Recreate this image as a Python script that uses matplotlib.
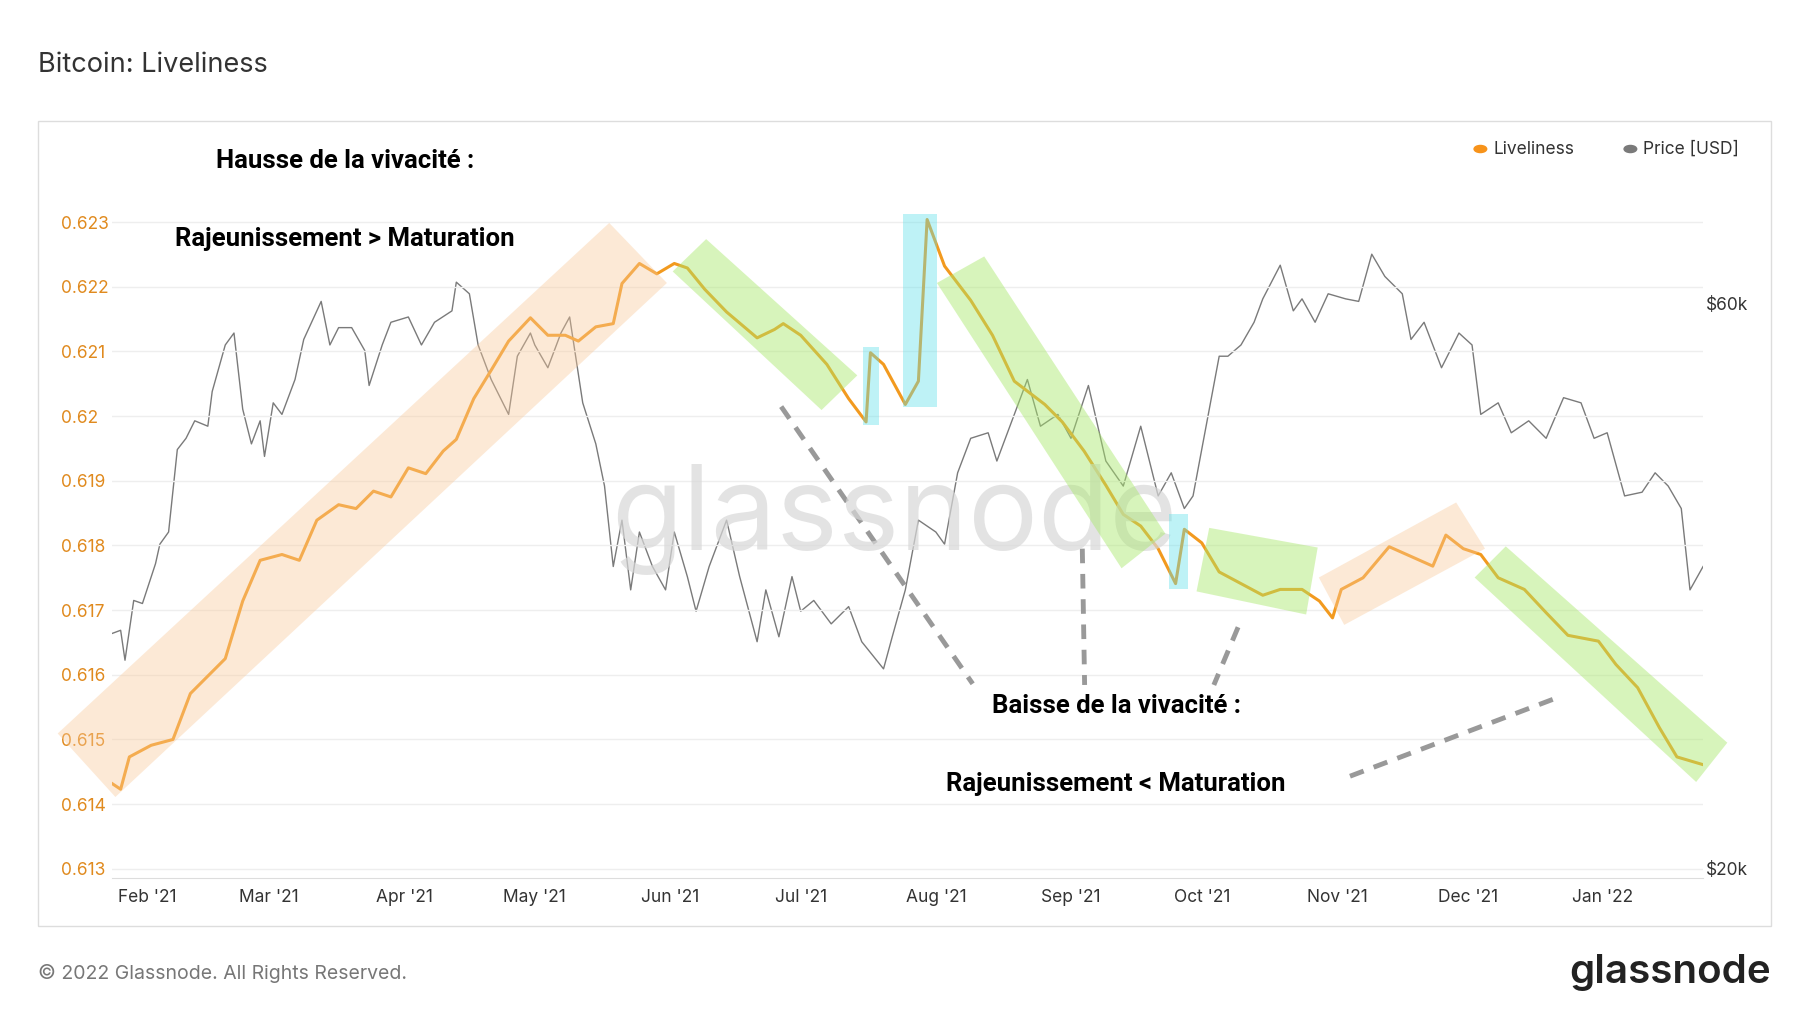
import matplotlib
matplotlib.use("Agg")
import matplotlib.pyplot as plt
from matplotlib.patches import Polygon, Rectangle
from matplotlib.lines import Line2D
import pandas as pd

plt.rcParams['font.family'] = ['Inter', 'DejaVu Sans']

base = pd.Timestamp("2021-01-24")
price_days = [0,2,3,5,7,10,11,13,15,17,19,22,23,26,28,30,32,34,35,37,39,42,44,48,50,52,55,58,59,62,64,68,71,74,78,79,82,84,87,91,93,96,97,100,103,105,108,111,113,115,117,119,121,124,127,129,132,134,137,141,144,148,150,153,156,158,161,165,169,172,177,179,182,185,189,191,194,197,201,203,207,210,213,217,220,224,228,232,236,240,243,246,248,251,254,256,259,262,264,268,271,273,276,279,283,286,289,292,296,298,301,305,309,312,314,318,321,325,329,333,337,340,343,347,351,354,357,360,362,365]
price_k = [31.6,31.8,30.0,33.7,33.5,36.2,37.6,38.5,45.2,46.2,47.8,47.3,50.6,55.4,56.7,48.9,45.7,47.8,44.6,49.5,48.4,51.8,56.0,60.3,55.4,57.3,57.3,54.8,51.2,55.4,57.9,58.5,55.4,57.9,59.2,62.6,61.2,55.4,51.8,48.4,54.2,56.7,55.4,53.0,56.7,58.5,49.5,45.7,42.1,36.0,39.4,34.4,38.5,36.0,34.4,38.5,35.3,33.0,36.0,39.4,35.3,31.1,34.4,31.4,35.3,33.0,33.7,32.2,33.3,31.1,29.5,31.4,34.4,39.4,38.5,37.6,43.2,46.2,46.7,44.2,48.4,51.8,47.3,48.4,46.2,51.2,44.2,42.1,47.3,41.3,43.2,40.3,41.3,47.3,54.2,54.2,55.4,57.9,60.6,64.7,59.2,60.6,57.9,61.2,60.6,60.3,66.1,63.3,61.2,56.0,57.9,53.0,56.7,55.4,48.4,49.5,46.7,47.8,46.2,50.0,49.5,46.2,46.7,41.3,41.6,43.2,42.1,40.3,34.4,36.0]
live_days = [0,2,4,9,14,18,22,26,30,34,39,43,47,52,56,60,64,68,72,76,79,83,87,91,96,100,104,107,111,115,117,121,125,129,132,136,141,148,152,154,158,164,169,173,174,177,182,185,187,191,197,202,207,214,218,223,228,232,236,240,244,246,250,254,259,264,268,273,277,280,282,287,293,297,303,306,310,314,318,324,329,334,341,345,350,355,359,365]
live_vals = [.61432,.61423,.61473,.61491,.61500,.61571,.61598,.61625,.61714,.61777,.61786,.61777,.61839,.61863,.61857,.61884,.61875,.61920,.61911,.61946,.61964,.62027,.62071,.62116,.62152,.62125,.62125,.62116,.62138,.62143,.62205,.62236,.62220,.62236,.62229,.62196,.62161,.62121,.62134,.62143,.62125,.62080,.62027,.61991,.62098,.62080,.62018,.62054,.62304,.62232,.62179,.62125,.62054,.62018,.61991,.61946,.61893,.61848,.61830,.61795,.61741,.61825,.61804,.61759,.61741,.61723,.61732,.61732,.61714,.61688,.61732,.61750,.61798,.61786,.61768,.61816,.61795,.61786,.61750,.61732,.61696,.61661,.61652,.61616,.61580,.61518,.61473,.61461]
xtick_labels = ["Feb '21","Mar '21","Apr '21","May '21","Jun '21","Jul '21","Aug '21","Sep '21","Oct '21","Nov '21","Dec '21","Jan '22"]
ytick_vals = [0.613,0.614,0.615,0.616,0.617,0.618,0.619,0.620,0.621,0.622,0.623]

pdates = [base + pd.Timedelta(days=d) for d in price_days]
ldates = [base + pd.Timedelta(days=d) for d in live_days]
prices = [p*1000 for p in price_k]

W, H = 1560, 877
fig = plt.figure(figsize=(18, 10.13), dpi=100)
def F(x, y): return (x/W, 1-y/H)
def poly(pts, color, alpha):
    fig.patches.append(Polygon([F(*p) for p in pts], closed=True, transform=fig.transFigure,
                               facecolor=color, alpha=alpha, edgecolor='none', zorder=3))

fig.patches.append(Rectangle(F(33,802), (1535-33)/W, (802-105)/H, transform=fig.transFigure,
                             facecolor='none', edgecolor='#dddddd', lw=1))
ax = fig.add_axes([97/W, 1-760/H, (1476-97)/W, (760-143)/H])
ax2 = ax.twinx()
ax.set_zorder(ax2.get_zorder()+1); ax.patch.set_visible(False)
ax2.plot(pdates, prices, color='#7a7a7a', lw=1.0)
ax2.set_yscale('log')
ax2.set_ylim(19644, 78600)
ax2.set_yticks([20000, 60000]); ax2.set_yticklabels(['$20k', '$60k'])
ax2.yaxis.set_minor_locator(matplotlib.ticker.NullLocator())
ax.plot(ldates, live_vals, color='#f29a1f', lw=2.2, zorder=5)
ax.set_ylim(0.61286, 0.62388)
ax.set_yticks(ytick_vals)
ax.set_yticklabels([f"{v:g}" for v in ytick_vals])
ax.set_xlim(base, base + pd.Timedelta(days=365))
ax.set_xticks([pd.Timestamp(f"2021-{m:02d}-01") for m in range(2,13)] + [pd.Timestamp("2022-01-01")])
ax.set_xticklabels(xtick_labels)
ax.grid(axis='y', color='#eeeeee', lw=1)
for a in (ax, ax2):
    for s in a.spines.values(): s.set_visible(False)
    a.tick_params(length=0, labelsize=12.5)
ax.spines['bottom'].set_visible(True); ax.spines['bottom'].set_color('#dddddd')
ax.tick_params(axis='y', colors='#e08a1e', pad=37)
for t in ax.get_yticklabels(): t.set_ha('left')
ax.tick_params(axis='x', colors='#333333', pad=8)
ax2.tick_params(axis='y', colors='#333333', pad=2)

fig.text(775/W, 1-450/H, 'glassnode', fontsize=84, color='#d8d8d8', alpha=0.7, ha='center', va='center', zorder=2)

poly([(50,635),(100,690),(578,245),(528,193)], '#f9c99a', 0.4)
poly([(583,235),(612,207),(743,325),(712,355)], '#a8e86a', 0.45)
poly([(748,300),(762,300),(762,368),(748,368)], '#5ee0ea', 0.4)
poly([(783,185),(812,185),(812,352),(783,352)], '#5ee0ea', 0.4)
poly([(812,245),(853,222),(1010,462),(972,492)], '#a8e86a', 0.45)
poly([(1013,445),(1030,445),(1030,510),(1013,510)], '#5ee0ea', 0.4)
poly([(1048,457),(1142,474),(1132,532),(1037,512)], '#a8e86a', 0.45)
poly([(1143,500),(1262,435),(1287,475),(1165,541)], '#f9c99a', 0.4)
poly([(1278,500),(1305,473),(1497,643),(1470,677)], '#a8e86a', 0.45)

for (x1,y1,x2,y2) in [(677,352,843,592),(938,475,940,593),(1073,543,1052,593),(1170,672,1347,605)]:
    fig.lines.append(Line2D([x1/W,x2/W],[1-y1/H,1-y2/H], transform=fig.transFigure,
                            color='#999999', lw=3.5, ls=(0,(3,2.2))))

bold = dict(fontsize=18.5, fontweight='bold', color='black', family=['Roboto', 'DejaVu Sans'])
fig.text(187/W, 1-139/H, 'Hausse de la vivacité :', va='center', **bold)
fig.text(152/W, 1-207/H, 'Rajeunissement > Maturation', va='center', **bold)
fig.text(860/W, 1-611/H, 'Baisse de la vivacité :', va='center', **bold)
fig.text(820/W, 1-679/H, 'Rajeunissement < Maturation', va='center', **bold)

fig.text(33/W, 1-56/H, 'Bitcoin: Liveliness', fontsize=19.5, color='#333333', va='center')
fig.text(33/W, 1-843/H, '© 2022 Glassnode. All Rights Reserved.', fontsize=14, color='#777777', va='center')
fig.text(1535/W, 1-842/H, 'glassnode', fontsize=29, color='#222222', ha='right', va='center', fontweight='semibold')

fig.patches.append(matplotlib.patches.Circle(F(1283,129), 0.0035, transform=fig.transFigure, color='#f7931a'))
fig.text(1294/W, 1-129/H, 'Liveliness', fontsize=12.5, color='#333333', va='center')
fig.patches.append(matplotlib.patches.Circle(F(1413,129), 0.0035, transform=fig.transFigure, color='#7a7a7a'))
fig.text(1424/W, 1-129/H, 'Price [USD]', fontsize=12.5, color='#333333', va='center')

fig.savefig('out.png', dpi=100, facecolor='white')
